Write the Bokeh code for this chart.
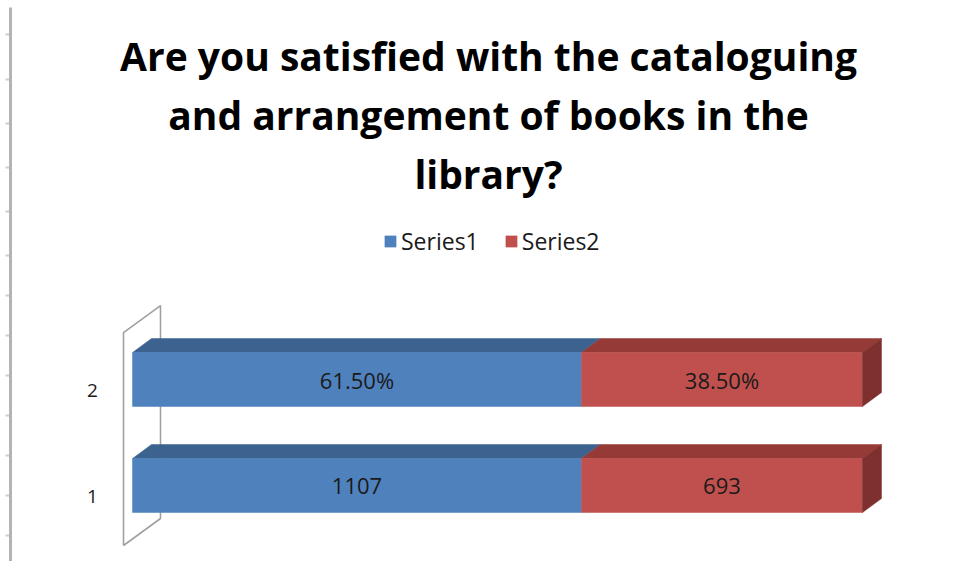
from bokeh.plotting import figure
from bokeh.models import Range1d, Label, Legend, LegendItem, BoxAnnotation, ColumnDataSource
from bokeh.core.properties import value
from bokeh.embed import file_html
from bokeh.resources import INLINE

# ---- data ----
categories = [1, 2]
category_labels = ["1", "2"]
series1 = [1107, 61.5]
series2 = [693, 38.5]
series1_labels = ["1107", "61.50%"]
series2_labels = ["693", "38.50%"]
series_names = ["Series1", "Series2"]
title_lines = ["Are you satisfied with the cataloguing",
               "and arrangement of books in the",
               "library?"]

# ---- styling / geometry ----
W, H = 946, 561
X0_PX, XPX = 132, 730.0      # pixel of value 0, pixels per unit (100%)
Y1_PX_FROM_BOTTOM, YPX = 76, 106.0
x_start = -X0_PX / XPX
x_end = (W - X0_PX) / XPX
y_start = 1 - Y1_PX_FROM_BOTTOM / YPX
y_end = y_start + H / YPX

BAR_H = 54 / YPX
DX, DY = 19 / XPX, 14 / YPX          # bar depth
WDX, WDY = 37 / XPX, 27 / YPX        # wall depth

front = ["#4F81BD", "#C0504D"]
topc = ["#3C6390", "#953A37"]
sidec = "#7D302E"

p = figure(width=W, height=H, output_backend="svg", toolbar_location=None,
           x_range=Range1d(x_start, x_end), y_range=Range1d(y_start, y_end),
           min_border=0, min_border_left=0, min_border_right=0,
           min_border_top=0, min_border_bottom=0)
p.axis.visible = False
p.grid.visible = False
p.outline_line_color = None
p.background_fill_color = "white"

# left spreadsheet border line with small row markers
p.add_layout(BoxAnnotation(left=8.5, right=11.5, bottom=0, top=H - 7,
                           left_units="screen", right_units="screen",
                           top_units="screen", bottom_units="screen",
                           fill_color="#B4B4B4", fill_alpha=1, line_color=None))
for ty in [34, 79, 123, 167, 211, 255, 295, 335, 375, 415, 455, 495, 535]:
    p.add_layout(BoxAnnotation(left=5, right=8.5, bottom=H - ty - 1, top=H - ty + 1,
                               left_units="screen", right_units="screen",
                               top_units="screen", bottom_units="screen",
                               fill_color="#C8CEE0", fill_alpha=1, line_color=None))

# back wall
wx = -9 / XPX
wb = categories[0] - 0.566
wt = categories[-1] + 0.443
p.line([wx, wx, wx + WDX, wx + WDX, wx], [wb, wt, wt + WDY, wb + WDY, wb],
       line_color="#A0A0A0", line_width=1.6)

# compute fractions
totals = [a + b for a, b in zip(series1, series2)]
f1 = [a / t for a, t in zip(series1, totals)]
f2 = [b / t for b, t in zip(series2, totals)]
lefts = [[0.0] * len(categories), f1]
rights = [f1, [a + b for a, b in zip(f1, f2)]]
labels = [series1_labels, series2_labels]

front_renderers = []
for s in range(2):
    xs_top, ys_top = [], []
    for i, c in enumerate(categories):
        l, r = lefts[s][i], rights[s][i]
        t = c + BAR_H / 2
        xs_top.append([l, l + DX, r + DX, r])
        ys_top.append([t, t + DY, t + DY, t])
    p.patches(xs_top, ys_top, fill_color=topc[s], line_color=topc[s], line_width=0.5)
    src = ColumnDataSource(dict(left=lefts[s], right=rights[s],
                                bottom=[c - BAR_H / 2 for c in categories],
                                top=[c + BAR_H / 2 for c in categories]))
    r_ = p.quad(left="left", right="right", bottom="bottom", top="top", source=src,
                fill_color=front[s], line_color=front[s], line_width=0.5)
    front_renderers.append(r_)

xs_side, ys_side = [], []
for i, c in enumerate(categories):
    r = rights[1][i]
    b, t = c - BAR_H / 2, c + BAR_H / 2
    xs_side.append([r, r, r + DX, r + DX])
    ys_side.append([b, t, t + DY, b + DY])
p.patches(xs_side, ys_side, fill_color=sidec, line_color=sidec, line_width=0.5)

# data labels
for s in range(2):
    cx = [(l + r) / 2 for l, r in zip(lefts[s], rights[s])]
    p.text(x=cx, y=categories, text=labels[s], text_align="center",
           text_baseline="middle", text_font=value("Open Sans"),
           text_font_size="22px", text_color="#1a1a1a")

# category labels
p.text(x=[-40 / XPX] * len(categories), y=[c - 0.105 for c in categories],
       text=category_labels, text_align="center", text_baseline="middle",
       text_font=value("Open Sans"), text_font_size="19px", text_color="#1a1a1a")

# title
for k, line in enumerate(title_lines):
    p.add_layout(Label(x=488, y=506 - 59 * k, x_units="screen", y_units="screen",
                       text=line, text_align="center", text_baseline="alphabetic",
                       text_font="Open Sans", text_font_style="bold",
                       text_font_size="39px", text_color="black"))

legend = Legend(items=[LegendItem(label=series_names[s], renderers=[front_renderers[s]])
                       for s in range(2)],
                location=(383, 304), orientation="horizontal",
                glyph_width=14, glyph_height=14, label_standoff=4, spacing=25,
                padding=0, margin=0, border_line_color=None, background_fill_alpha=0,
                label_text_font="Open Sans", label_text_font_size="23px",
                label_text_color="#1a1a1a")
p.add_layout(legend)

open("out.html", "w").write(file_html(p, INLINE))
